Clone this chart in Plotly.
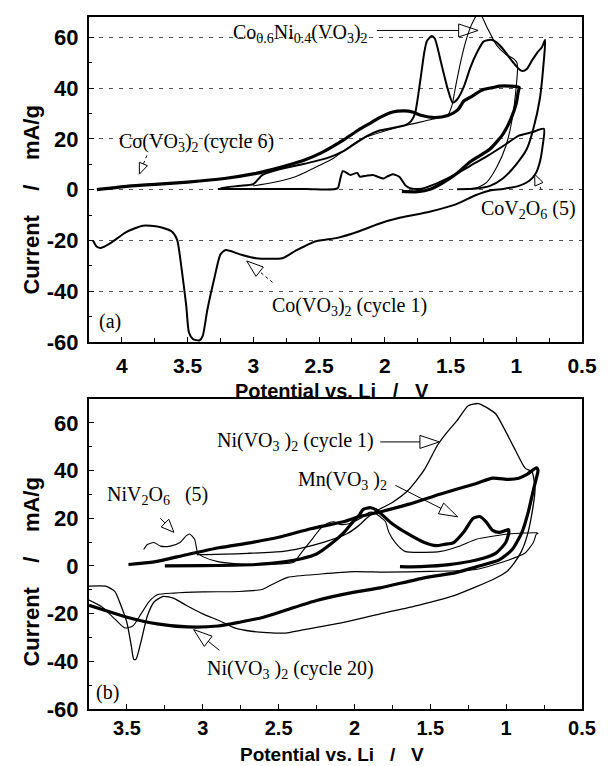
import math
import plotly.graph_objects as go

# ---------------- layout constants ----------------
W, H = 609, 766
A_TOP, A_BOT = 17, 342
B_TOP, B_BOT = 399, 709
ML, MR, MT, MB = 89, 14, A_TOP, H - B_BOT
PW, PH = W - ML - MR, H - MT - MB
A_DOM = [(H - MB - A_BOT) / PH, (H - MB - A_TOP) / PH]
B_DOM = [(H - MB - B_BOT) / PH, (H - MB - B_TOP) / PH]
A_XR, A_YR = [4.25, 0.5], [-60, 68]
B_XR, B_YR = [3.75, 0.5], [-60, 70]

# ---------------- panel (a) data ----------------
co_c1_v = [4.22, 4.19, 4.16, 4.09, 3.97, 3.84, 3.72, 3.62, 3.58, 3.545, 3.51, 3.49, 3.46, 3.41, 3.385,
           3.35, 3.30, 3.25, 3.21, 3.10, 2.98, 2.78, 2.68, 2.53, 2.36, 2.2, 2.05, 1.88, 1.66, 1.46, 1.31,
           1.2, 1.1, 0.98, 0.9, 0.85, 0.82, 0.80, 0.79, 0.88, 0.98, 1.1, 1.225, 1.35, 1.47, 1.6, 1.72,
           1.8, 1.84, 1.89, 1.94, 1.98, 2.01, 2.05, 2.09, 2.14, 2.19, 2.21, 2.26, 2.29, 2.32, 2.34, 2.36,
           2.6, 3.0, 3.27]
co_c1_i = [-20, -22.5, -23, -21.2, -16.8, -14.2, -14.6, -16.5, -19.7, -31.4, -45.9, -56.2, -58.8, -59.4, -57.6,
           -47.4, -35.7, -25.5, -23.8, -25.5, -27, -27, -24.1, -20.4, -19, -16.5, -13.5, -11, -8.7, -5.8, -2.2,
           -0.3, 0.3, 1.5, 3.5, 6.6, 11, 17, 24, 22.6, 21.3, 17.2, 13.1, 9.4, 5.8, 2.6, 0.4,
           0.5, 1.5, 5.1, 6.1, 5.2, 4.4, 5.0, 5.8, 5.5, 5.1, 6.6, 5.8, 6.6, 7.3, 4.0, 0.5,
           0.3, 0.3, 0.3]

co_c6_v = [4.19, 3.95, 3.72, 3.5, 3.22, 3.0, 2.85, 2.7, 2.61, 2.48, 2.31, 2.2, 2.1, 2.04, 1.94, 1.85, 1.79,
           1.72, 1.62, 1.52, 1.447, 1.397, 1.348, 1.3, 1.25, 1.18, 1.126, 1.05, 0.978, 0.985, 1.0, 1.04,
           1.1, 1.2, 1.35, 1.45, 1.55, 1.65, 1.75, 1.87]
co_c6_i = [0, 1.4, 2.2, 3.0, 4.4, 6.2, 8.0, 10.2, 11.7, 14.6, 19.7, 23.5, 26.5, 28.4, 30.6, 31.0, 30.6,
           29.2, 28.4, 29.2, 31.3, 35, 36.4, 38, 39.4, 40.2, 40.8, 40.8, 40.3, 38.6, 34, 28,
           22, 16, 11, 6.5, 3, 0.3, -0.8, -0.7]

coni_v = [3.0, 2.85, 2.68, 2.5, 2.39, 2.19, 1.94, 1.8, 1.64, 1.52, 1.49, 1.46, 1.42, 1.385, 1.34, 1.3,
          1.27, 1.225, 1.15, 1.077, 1.02, 0.995, 0.99, 1.0, 1.027, 1.077, 1.15, 1.225, 1.3, 1.38]
coni_i = [1.5, 2.8, 5.1, 9.5, 12.4, 19.7, 24, 25.8, 27.7, 29.5, 33, 41, 51, 58.3, 65, 68.6,
          68.8, 64.2, 56.9, 53.2, 51.5, 50, 48, 40.8, 29, 17.5, 8.7, 2.9, 0.7, 0.3]

cov_v = [3.25, 3.2, 3.1, 3.0, 2.93, 2.8, 2.61, 2.44, 2.31, 2.14, 2.04, 1.95, 1.84, 1.8, 1.77, 1.73, 1.70,
         1.68, 1.644, 1.62, 1.57, 1.52, 1.484, 1.45, 1.397, 1.35, 1.299, 1.249, 1.19, 1.15, 1.101, 1.027,
         0.978, 0.953, 0.92, 0.879, 0.84, 0.805, 0.78, 0.79, 0.82, 0.87, 0.92, 1.0, 1.1, 1.2, 1.3, 1.45]
cov_i = [0.5, 1.0, 1.5, 2.2, 5.8, 8.0, 10.2, 12.4, 15.3, 21, 23.3, 24.2, 25.5, 27, 30, 43, 54,
         58.5, 60.5, 59.5, 49.6, 39.4, 34.3, 35.5, 40.8, 48, 54, 58.3, 59, 58, 55.4, 50.3,
         47.4, 46.7, 47.5, 51, 54, 56.1, 59, 51, 36, 24, 16, 10, 4.5, 1.5, 0.5, 0.2]

# ---------------- panel (b) data ----------------
ni_c1_v = [3.75, 3.64, 3.58, 3.54, 3.5, 3.47, 3.455, 3.44, 3.41, 3.365, 3.32, 3.26, 3.19, 3.11, 3.0, 2.89,
           2.79, 2.68, 2.47, 2.33, 2.08, 1.83, 1.58, 1.33, 1.08, 1.0, 0.95, 0.9, 0.86, 0.83, 0.81, 0.83,
           0.875, 0.939, 1.0, 1.068, 1.13, 1.185, 1.25, 1.325, 1.39, 1.453, 1.539, 1.646, 1.753, 1.817,
           1.87, 1.92, 1.97, 2.05, 2.2, 2.35, 2.47, 2.7, 3.04]
ni_c1_i = [-8.5, -8.5, -10.7, -16.5, -23.8, -34, -39.1, -39.1, -32.5, -20.9, -15, -12.8, -13.6, -16.5, -20.1, -23,
           -26, -27.4, -28.2, -26.7, -23.8, -20.1, -16.5, -12.1, -5.5, -2.6, 1, 6, 13, 22, 32, 39.5,
           41, 48.5, 56, 63.7, 66.5, 68.1, 67.2, 60.8, 56, 50.6, 40.4, 31.7, 26.5, 24.4,
           22.5, 20, 17, 13.5, 10, 7.5, 6.1, 5.3, 4.7]

niv_v = [3.39, 3.365, 3.322, 3.279, 3.215, 3.15, 3.108, 3.087, 3.054, 3.033, 3.0, 2.894, 2.68, 2.5, 2.4,
         2.352, 2.288, 2.224, 2.181, 2.138, 2.095, 2.03, 1.96, 1.9, 1.86, 1.82, 1.795, 1.774, 1.731,
         1.667, 1.539, 1.432, 1.3, 1.196, 0.982, 0.8, 0.79, 0.80, 0.821, 0.875, 0.982, 1.2, 1.5, 1.8,
         2.0, 2.22, 2.44, 2.55, 2.61, 2.76, 3.0, 3.19, 3.3, 3.354, 3.407, 3.461, 3.514, 3.579, 3.664, 3.75]
niv_i = [6.9, 9.0, 9.8, 8.3, 8.3, 9.8, 12.7, 13.4, 11.2, 5.4, 3.9, 1.7, 0.6, 0.8, 1.5,
         5.4, 10.5, 15.6, 17.8, 18.5, 17.4, 17.8, 20, 22.5, 22, 20, 18.5, 14.2, 9.8,
         6.1, 5.7, 6.1, 8.5, 11.2, 13.4, 13.9, 13.6, 13.4, 9.8, 5.4, 2.5, -1.5, -2.3, -2.6,
         -2.4, -3.4, -4.8, -8, -9.9, -10.7, -10.9, -11.4, -12.1, -15, -20.1, -25.2, -26, -22.3, -17.2, -14.3]

mn_v = [3.25, 3.0, 2.8, 2.65, 2.465, 2.35, 2.25, 2.15, 2.07, 2.01, 1.967, 1.945, 1.92, 1.892, 1.86, 1.817,
        1.753, 1.646, 1.539, 1.46, 1.41, 1.346, 1.281, 1.217, 1.174, 1.132, 1.089, 1.046, 1.003, 0.985,
        0.982, 1.003, 1.067, 1.196, 1.41, 1.624, 1.7]
mn_i = [0, 0.1, 0.3, 0.6, 1.7, 3.0, 5.0, 9.5, 14, 18.5, 21.4, 23.6, 24.2, 24.4, 23.6, 21.4,
        17.8, 13.4, 9.8, 8.5, 9.0, 9.8, 14.1, 20.0, 20.7, 18.5, 14.9, 14.1, 14.9, 15.2,
        14.1, 9.8, 5.4, 2.5, 0.3, -0.4, -0.3]

ni_c20_v = [3.49, 3.32, 3.108, 2.894, 2.68, 2.5, 2.288, 2.074, 1.967, 1.86, 1.646, 1.432, 1.196, 1.089, 0.982,
            0.917, 0.86, 0.8, 0.79, 0.8, 0.821, 0.853, 0.896, 0.96, 1.046, 1.196, 1.33, 1.54, 1.83, 2.0, 2.25,
            2.45, 2.6, 2.75, 2.9, 3.1, 3.3, 3.5, 3.6, 3.75]
ni_c20_i = [0.6, 1.7, 4.7, 7.6, 9.8, 12, 15.6, 18.5, 20.7, 22.2, 25.8, 30.2, 34.6, 36.8, 36.3,
            36.8, 38.5, 41.1, 40, 37, 31.7, 22.9, 14.1, 6.9, 2.5, -0.4, -2.8, -5, -9.2, -11, -14.5,
            -18.5, -21.5, -23.5, -25.2, -25.6, -24.3, -21.5, -19.5, -16.5]

# tick labels
a_xticks = [4, 3.5, 3, 2.5, 2, 1.5, 1, 0.5]
b_xticks = [3.5, 3, 2.5, 2, 1.5, 1, 0.5]
y_ticks = [-60, -40, -20, 0, 20, 40, 60]

# annotation texts and positions
a_labels = [
    ("Co<sub>0.6</sub>Ni<sub>0.4</sub>(VO<sub>3</sub>)<sub>2</sub>", 2.64, 61.5),
    ("Co(VO<sub>3</sub>)<sub>2</sub> (cycle 6)", 3.43, 18.4),
    ("Co(VO<sub>3</sub>)<sub>2</sub> (cycle 1)", 2.27, -46.0),
    ("CoV<sub>2</sub>O<sub>6</sub> (5)", 0.91, -7.9),
    ("(a)", 4.09, -51.9),
]
b_labels = [
    ("Ni(VO<sub>3</sub> )<sub>2</sub> (cycle 1)", 2.39, 52.0),
    ("Mn(VO<sub>3</sub> )<sub>2</sub>", 2.08, 36.0),
    ("NiV<sub>2</sub>O<sub>6</sub>\u00a0\u00a0\u00a0(5)", 3.30, 29.5),
    ("Ni(VO<sub>3</sub> )<sub>2</sub> (cycle 20)", 2.42, -43.4),
    ("(b)", 3.63, -53.0),
]
# arrows: (tail, tip, head length px, head width px, dash)
a_arrows = [((2.06, 62.7), (1.29, 62.7), 20, 13, "solid"),
            ((3.81, 13.5), (3.867, 6.1), 11, 9, "dot"),
            ((2.854, -36.5), (3.05, -28.1), 17, 12, "dot"),
            ((0.81, 0.0), (0.86, 6.1), 11, 9, "dot")]
b_arrows = [((1.83, 52.0), (1.44, 52.0), 20, 13, "solid"),
            ((1.73, 33.8), (1.32, 20.6), 19, 12, "solid"),
            ((3.28, 20.0), (3.19, 14.1), 13, 11, "solid"),
            ((2.89, -35.4), (3.06, -26.7), 19, 13, "solid")]

fig = go.Figure()


def add(v, i, w, panel):
    xa, ya = ("x", "y") if panel == "a" else ("x2", "y2")
    fig.add_trace(go.Scatter(x=v, y=i, mode="lines", xaxis=xa, yaxis=ya,
                             line=dict(color="black", width=w, shape="spline", smoothing=0.6),
                             showlegend=False, hoverinfo="skip"))


add(co_c1_v, co_c1_i, 2.0, "a")
add(cov_v, cov_i, 2.0, "a")
add(coni_v, coni_i, 1.1, "a")
add(co_c6_v, co_c6_i, 3.2, "a")

add(niv_v, niv_i, 1.1, "b")
add(ni_c1_v, ni_c1_i, 1.3, "b")
add(mn_v, mn_i, 3.2, "b")
add(ni_c20_v, ni_c20_i, 3.2, "b")


def geom(panel):
    return (A_XR, A_YR, A_DOM) if panel == "a" else (B_XR, B_YR, B_DOM)


def to_px(v, i, panel):
    xr, yr, dom = geom(panel)
    x = ML + (v - xr[0]) / (xr[1] - xr[0]) * PW
    top = MT + PH * (1 - dom[1]); hh = PH * (dom[1] - dom[0])
    y = top + (yr[1] - i) / (yr[1] - yr[0]) * hh
    return x, y


def from_px(x, y, panel):
    xr, yr, dom = geom(panel)
    v = xr[0] + (x - ML) / PW * (xr[1] - xr[0])
    top = MT + PH * (1 - dom[1]); hh = PH * (dom[1] - dom[0])
    i = yr[1] - (y - top) / hh * (yr[1] - yr[0])
    return v, i


def arrow(panel, tail, tip, L, Wd, dash):
    xr_, yr_ = ("x", "y") if panel == "a" else ("x2", "y2")
    tx, ty = to_px(*tail, panel)
    px, py_ = to_px(*tip, panel)
    dx, dy = px - tx, py_ - ty
    n = math.hypot(dx, dy)
    ux, uy = dx / n, dy / n
    bx, by = px - ux * L, py_ - uy * L
    l = from_px(bx - uy * Wd / 2, by + ux * Wd / 2, panel)
    r = from_px(bx + uy * Wd / 2, by - ux * Wd / 2, panel)
    b = from_px(bx, by, panel)
    fig.add_shape(type="line", xref=xr_, yref=yr_, x0=tail[0], y0=tail[1], x1=b[0], y1=b[1],
                  line=dict(color="black", width=1, dash=dash))
    path = f"M {tip[0]},{tip[1]} L {l[0]},{l[1]} L {r[0]},{r[1]} Z"
    fig.add_shape(type="path", xref=xr_, yref=yr_, path=path,
                  line=dict(color="black", width=1), fillcolor="rgba(255,255,255,0)")


for a in a_arrows:
    arrow("a", *a)
for a in b_arrows:
    arrow("b", *a)

serif = dict(family="Liberation Serif", size=20, color="black")
for t, v, i in a_labels:
    fig.add_annotation(text=t, x=v, y=i, xref="x", yref="y", showarrow=False, font=serif)
for t, v, i in b_labels:
    fig.add_annotation(text=t, x=v, y=i, xref="x2", yref="y2", showarrow=False, font=serif)

nb = "\u00a0"
ytitle = "Current" + nb * 3 + " /" + nb * 3 + " mA/g"
xtitle = "Potential vs. Li" + nb * 2 + " /" + nb * 2 + " V"
ytfont = dict(family="Liberation Sans", size=22, color="black", weight="bold")
xtfont = dict(family="Liberation Sans", size=19, color="black", weight="bold")


def ppy(pix):
    return (H - MB - pix) / PH


for yc in [200, 572]:
    fig.add_annotation(text=ytitle, xref="paper", yref="paper", x=(29 - ML) / PW, y=ppy(yc),
                       textangle=-90, showarrow=False, font=ytfont, xanchor="center", yanchor="middle")
fig.add_annotation(text=xtitle, xref="paper", yref="paper", x=0.493, y=ppy(391),
                   showarrow=False, font=dict(xtfont, size=20), xanchor="center", yanchor="middle",
                   borderpad=0)
fig.add_annotation(text=xtitle, xref="paper", yref="paper", x=0.493, y=ppy(765.5),
                   showarrow=False, font=xtfont, xanchor="center", yanchor="bottom", borderpad=0)

common_x = dict(showline=True, linewidth=2, linecolor="black", mirror=True, ticks="inside",
                ticklen=5, tickwidth=1, tickcolor="black", showgrid=False, zeroline=False,
                ticklabeloverflow="allow",
                minor=dict(ticks="inside", ticklen=4, dtick=0.25, tickcolor="black", showgrid=False))
common_y = dict(showline=True, linewidth=2, linecolor="black", mirror=True, ticks="inside",
                ticklen=5, tickwidth=1, tickcolor="black", zeroline=False,
                tickfont=dict(family="Liberation Sans", size=22, color="black", weight="bold"),
                ticklabelstandoff=4, tickmode="array",
                tickvals=y_ticks, ticktext=[str(t) for t in y_ticks],
                minor=dict(ticks="inside", ticklen=3, dtick=10, tickcolor="black", showgrid=False))

fig.update_layout(
    width=W, height=H, margin=dict(l=ML, r=MR, t=MT, b=MB),
    paper_bgcolor="white", plot_bgcolor="white",
    xaxis=dict(domain=[0, 1], anchor="y", range=A_XR, tickmode="array", tickvals=a_xticks,
               ticktext=[str(t) for t in a_xticks], ticklabelstandoff=4,
               tickfont=dict(family="Liberation Sans", size=21, color="black", weight="bold"),
               **common_x),
    yaxis=dict(domain=A_DOM, anchor="x", range=A_YR, showgrid=True, gridcolor="#555555",
               gridwidth=1, griddash="4px,6px", **common_y),
    xaxis2=dict(domain=[0, 1], anchor="y2", range=B_XR, tickmode="array", tickvals=b_xticks,
                ticktext=[str(t) for t in b_xticks], ticklabelstandoff=0,
                tickfont=dict(family="Liberation Sans", size=20, color="black", weight="bold"),
                **common_x),
    yaxis2=dict(domain=B_DOM, anchor="x2", range=B_YR, showgrid=False, **common_y),
)

fig.write_html("out.html", config={"displayModeBar": False},
               post_script="document.body.style.margin='0px';document.body.style.overflow='hidden';")
